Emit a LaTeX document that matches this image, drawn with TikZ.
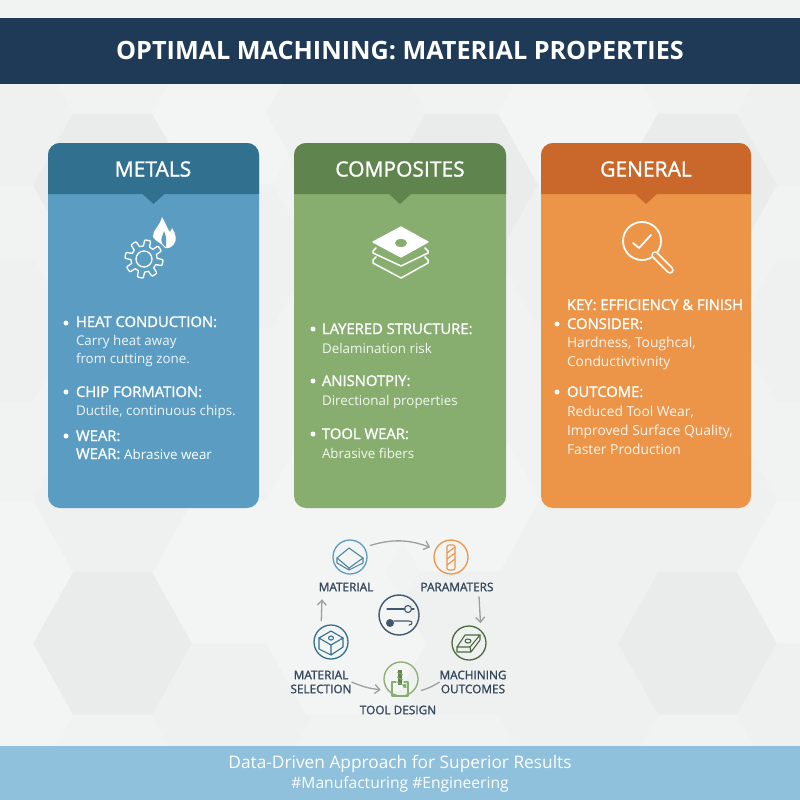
\documentclass[tikz,border=0pt]{standalone}
\usepackage{fontspec}
\setmainfont{Open Sans}
\newfontfamily\headfont[FakeBold=1.4]{Open Sans}
\usetikzlibrary{arrows.meta,shapes.geometric,positioning}

\definecolor{pagebg}{HTML}{F1F2F2}
\definecolor{hexdark}{HTML}{EAEBEB}
\definecolor{hexmid}{HTML}{EFF0F0}
\definecolor{hexlight}{HTML}{F3F4F4}
\definecolor{titlebar}{HTML}{1F3A56}
\definecolor{footbar}{HTML}{8FC0DC}
\definecolor{metalbody}{HTML}{5B9DC2}
\definecolor{metalhead}{HTML}{32708F}
\definecolor{compbody}{HTML}{88AE6F}
\definecolor{comphead}{HTML}{5F844E}
\definecolor{genbody}{HTML}{EC9549}
\definecolor{genhead}{HTML}{C9682A}
\definecolor{cyclegray}{HTML}{9A9FA2}
\definecolor{cycletext}{HTML}{33465A}

\begin{document}
\begin{tikzpicture}[x=1pt,y=-1pt,every node/.style={outer sep=0pt,inner sep=0pt}]

\tikzstyle{cardtitle}=[text=white,font=\headfont\fontsize{21}{23}\selectfont]
\tikzstyle{cardhead}=[anchor=west,text=white,text height=13pt,text depth=3pt,font=\headfont\fontsize{14.8}{16}\selectfont]
\tikzstyle{cardline}=[anchor=west,text=white,opacity=0.9,text height=13pt,text depth=3pt,font=\fontsize{13.4}{16}\selectfont]
\tikzstyle{genline}=[cardline,font=\fontsize{13.8}{16}\selectfont]
\tikzstyle{cyclelabel}=[text=cycletext,align=center,font=\headfont\fontsize{11.8}{14}\selectfont]
\tikzstyle{cyclecircle}=[circle,minimum size=34pt,outer sep=6pt,line width=1.3pt]
\tikzstyle{cyclearrow}=[-{Straight Barb[length=5pt,width=9pt]},cyclegray,line width=1.3pt]
\tikzstyle{icon}=[line width=1.1pt,line join=round,line cap=round]

\useasboundingbox (0,0) rectangle (800,800);
\fill[pagebg] (0,0) rectangle (800,800);

% background hexagons
\foreach \hx/\hy/\hc in {113/185/hexdark,458/185/hexdark,697/185/hexdark,232/113/hexlight,578/113/hexlight,
  346/113/hexmid,-7/113/hexmid,817/113/hexmid,232/256/hexmid,578/256/hexmid,-7/330/hexmid,817/330/hexmid,
  113/643/hexdark,697/643/hexdark,232/572/hexlight,232/715/hexmid,113/500/hexmid,-7/572/hexlight,-7/715/hexlight,
  460/643/hexmid,578/572/hexmid,578/715/hexmid,697/500/hexmid,817/572/hexlight,817/715/hexmid,346/643/hexlight,
  346/500/hexlight,460/500/hexlight}
  \fill[\hc] (\hx-40,\hy-71.5) -- (\hx+40,\hy-71.5) -- (\hx+80,\hy) -- (\hx+40,\hy+71.5) -- (\hx-40,\hy+71.5) -- (\hx-80,\hy) -- cycle;

\fill[titlebar] (0,18) rectangle (800,84);
\fill[footbar] (0,746) rectangle (800,800);
\node (title) at (400,51) [text=white,font=\fontsize{25.2}{28}\selectfont\bfseries]{OPTIMAL MACHINING: MATERIAL PROPERTIES};
\node (footone) at (400,764) [text=white,font=\fontsize{17.3}{18}\selectfont]{Data-Driven Approach for Superior Results};
\node (foottwo) at (400,784) [text=white,font=\fontsize{15.6}{18}\selectfont]{\#Manufacturing \#Engineering};

% the three cards
\foreach \cx/\cw/\cbody/\chead in {48/211/metalbody/metalhead,294/212/compbody/comphead,541/210/genbody/genhead}{
  \fill[\cbody,rounded corners=12pt] (\cx,143) rectangle (\cx+\cw,508);
  \fill[\chead] (\cx,194) [rounded corners=12pt] -- (\cx,143) -- (\cx+\cw,143) [sharp corners] -- (\cx+\cw,194)
    -- (\cx+\cw/2+11,194) -- (\cx+\cw/2,204) -- (\cx+\cw/2-11,194) -- cycle;
}
\node (metals) at (153,169) [cardtitle]{METALS};
\node (composites) at (400,169) [cardtitle]{COMPOSITES};
\node (general) at (646,169) [cardtitle]{GENERAL};

% gear and flame
\draw[icon,white,line width=1.3pt] plot[domain=0:360,samples=193] ({144+(16+3*min(1,max(-1,3*sin(8*\x))))*cos(\x)},{259+(16+3*min(1,max(-1,3*sin(8*\x))))*sin(\x)}) -- cycle;
\draw[icon,white,line width=1.3pt] (144,259) circle (8);
\fill[white] (162,217) .. controls (166,224) and (168,230) .. (170,232) .. controls (171,230) and (172,229) .. (172,228)
  .. controls (176,234) and (177,240) .. (174,244) .. controls (172,247) and (168,249) .. (165,248)
  .. controls (162,243) and (156,242) .. (153,237) .. controls (152,231) and (160,226) .. (162,217) -- cycle;
\fill[metalbody] (164,231) .. controls (163,236) and (160,238) .. (162,243) .. controls (163,245) and (165,246) .. (166,247)
  .. controls (166,241) and (167,237) .. (164,231) -- cycle;

% stacked layers
\fill[white,line join=round,draw=white,line width=1.3pt] (401,227) -- (428,242) -- (401,257) -- (373,242) -- cycle;
\fill[compbody] (401,243) ellipse (6 and 4);
\draw[icon,white,line width=1.5pt] (376,248) -- (373,251) -- (373,253) -- (401,266) -- (428,253) -- (428,251) -- (425,248);
\draw[icon,white,line width=1.5pt] (376,257) -- (373,260) -- (373,263) -- (401,278) -- (428,263) -- (428,260) -- (425,257);

% magnifier
\draw[icon,white,line width=1.8pt] (642,241) circle (19);
\draw[icon,white,line width=1.8pt] (633,243) -- (639,248) -- (651,235);
\draw[white,line width=7.5pt,line cap=round] (655,255) -- (670,270);
\draw[genbody,line width=4pt,line cap=round] (655,255) -- (670,270);

% metals text
\fill[white] (66,323) circle (2.5);
\node (metalsa) at (76,322) [cardhead]{HEAT CONDUCTION:};
\node (metalsb) at (76,340) [cardline]{Carry heat away};
\node (metalsc) at (76,358) [cardline]{from cutting zone.};
\fill[white] (66,392) circle (2.5);
\node (metalsd) at (76,392) [cardhead]{CHIP FORMATION:};
\node (metalse) at (76,410) [cardline]{Ductile, continuous chips.};
\fill[white] (66,436) circle (2.5);
\node (metalsf) at (76,436) [cardhead]{WEAR:};
\node (metalsg) at (76,454) [cardhead]{WEAR: \fontsize{13.4}{16}\selectfont\normalfont Abrasive wear};

% composites text
\fill[white] (313,329) circle (2.5);
\node (compa) at (322,329) [cardhead]{LAYERED STRUCTURE:};
\node (compb) at (322,348) [cardline]{Delamination risk};
\fill[white] (313,381) circle (2.5);
\node (compc) at (322,381) [cardhead]{ANISNOTPIY:};
\node (compd) at (322,400) [cardline]{Directional properties};
\fill[white] (313,434) circle (2.5);
\node (compe) at (322,434) [cardhead]{TOOL WEAR:};
\node (compf) at (322,453) [cardline]{Abrasive fibers};

% general text
\node (gena) at (567,305) [cardhead]{KEY: EFFICIENCY \& FINISH};
\fill[white] (557,324) circle (2.5);
\node (genb) at (567,324) [cardhead]{CONSIDER:};
\node (genc) at (567,342) [genline]{Hardness, Toughcal,};
\node (gend) at (567,361) [genline]{Conductivtivnity};
\fill[white] (557,392) circle (2.5);
\node (gene) at (567,392) [cardhead]{OUTCOME:};
\node (genf) at (567,411) [genline]{Reduced Tool Wear,};
\node (geng) at (567,430) [genline]{Improved Surface Quality,};
\node (genh) at (567,449) [genline]{Faster Production};

% cycle at the bottom
\node (material) at (350,557) [cyclecircle,draw=metalbody]{};
\node (params) at (451,557) [cyclecircle,draw=genbody]{};
\node (centre) at (399,615) [circle,minimum size=40pt,draw=titlebar!85,line width=1.4pt]{};
\node (selection) at (331,642) [cyclecircle,draw=metalhead]{};
\node (machining) at (469,643) [cyclecircle,draw=comphead!80!black]{};
\node (tool) at (401,679) [cyclecircle,draw=compbody]{};

\node (materiallabel) at (346,587) [cyclelabel]{MATERIAL};
\node (paramslabel) at (457,587) [cyclelabel]{PARAMATERS};
\node (selectionlabel) at (321,682) [cyclelabel]{MATERIAL\\SELECTION};
\node (machininglabel) at (473,682) [cyclelabel]{MACHINING\\OUTCOMES};
\node (toollabel) at (398,710) [cyclelabel]{TOOL DESIGN};

\draw[cyclearrow] (material.30) to[bend left=18] (params.155);
\draw[cyclearrow] ([xshift=22pt,yshift=-5pt]paramslabel.south) -- (machining.60);
\draw[cyclearrow] (selection.115) -- ([xshift=-24pt,yshift=-8pt]materiallabel.south);
\draw[cyclearrow] (selectionlabel.east) to[bend right=8] (tool.208);
\draw[cyclegray,line width=1.3pt] (tool.-30) to[bend right=8] (machininglabel.west);

% small icons
\draw[icon,metalhead!85!white] (337,558) -- (349,548) -- (363,558) -- (349,568) -- cycle;
\draw[icon,metalhead!85!white] (337,558) -- (337,563) -- (349,570) -- (363,563) -- (363,558) (349,568) -- (349,570);
\draw[icon,genbody,rounded corners=2pt] (447,545) rectangle (455,570);
\draw[icon,genbody] (447,553) -- (455,547) (447,559) -- (455,553) (447,565) -- (455,559);
\draw[icon,titlebar!85] (387,609) -- (405,609) (411.5,609) -- (414,609);
\draw[icon,titlebar!85] (408,609) circle (3.5);
\fill[titlebar!85] (390,623) circle (4);
\draw[icon,titlebar!85] (394,621) -- (409,621) .. controls (413,621) and (413,625) .. (409,625);
\draw[icon,metalhead] (319,638) -- (331,631) -- (343,638) -- (331,645) -- cycle;
\draw[icon,metalhead] (319,638) -- (319,649) -- (331,655) -- (343,647) -- (343,638) (331,645) -- (331,655);
\draw[icon,metalhead] (331,638) ellipse (2.5 and 2);
\draw[icon,comphead!80!black] (465,635) -- (480,635) -- (470,647) -- (457,647) -- cycle;
\draw[icon,comphead!80!black] (457,647) -- (457,652) -- (471,652) -- (480,640) -- (480,635) (470,647) -- (471,652);
\draw[icon,comphead!80!black] (468,641) ellipse (3 and 2);
\draw[comphead,line width=4pt] (400,670) -- (400,685);
\draw[compbody,line width=0.9pt] (397,672) -- (403,675) (397,677) -- (403,680) (397,682) -- (403,685);
\draw[icon,compbody] (396,682) -- (392,682) -- (392,696) -- (408,696) -- (408,682) -- (404,682);
\draw[icon,compbody] (406,685) -- (404,685) -- (404,687) -- (406,687);

\end{tikzpicture}
\end{document}
